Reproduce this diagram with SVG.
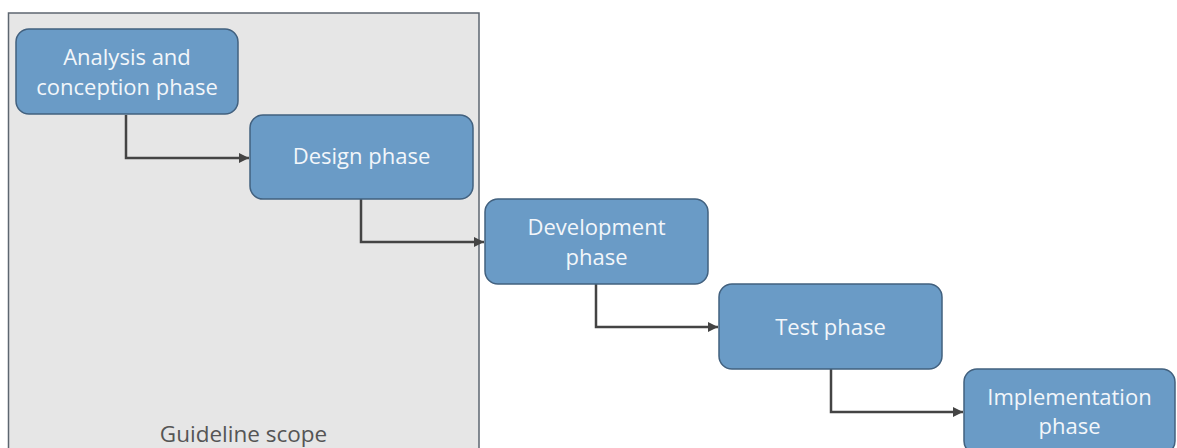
<svg xmlns="http://www.w3.org/2000/svg" width="1177" height="448" viewBox="0 0 1177 448">
<style>
.box{fill:#6a9bc6;stroke:#42617f;stroke-width:1.5}
.lbl{font-family:"Open Sans","Liberation Sans",sans-serif;font-size:22px;fill:#f2f6fa;text-anchor:middle}
.conn{fill:none;stroke:#444;stroke-width:2.5}
.scope{fill:#e6e6e6;stroke:#5d6670;stroke-width:1.5}
.scopelbl{font-family:"Open Sans","Liberation Sans",sans-serif;font-size:22.5px;fill:#555;text-anchor:middle}
</style>
<defs>
<marker id="ah" viewBox="0 0 10 10" refX="10" refY="5" markerWidth="4" markerHeight="4" orient="auto" markerUnits="strokeWidth">
<path d="M0,0 L10,5 L0,10 z" fill="#444"/>
</marker>
</defs>
<rect width="1177" height="448" fill="#fff"/>
<g id="scope">
<rect class="scope" x="8.5" y="13" width="470.5" height="450"/>
<text class="scopelbl" x="243.5" y="442">Guideline scope</text>
</g>
<g id="connectors">
<path class="conn" d="M126,115 V158 H249" marker-end="url(#ah)"/>
<path class="conn" d="M361,199 V242 H484" marker-end="url(#ah)"/>
<path class="conn" d="M596,284 V327 H718" marker-end="url(#ah)"/>
<path class="conn" d="M831,369 V412 H963" marker-end="url(#ah)"/>
</g>
<g id="analysis">
<rect class="box" x="16" y="29" width="222" height="85" rx="13"/>
<text class="lbl" x="127" y="65">Analysis and</text>
<text class="lbl" x="127" y="95">conception phase</text>
</g>
<g id="design">
<rect class="box" x="250" y="115" width="223" height="84" rx="13"/>
<text class="lbl" x="361.5" y="164">Design phase</text>
</g>
<g id="development">
<rect class="box" x="485" y="199" width="223" height="85" rx="13"/>
<text class="lbl" x="596.5" y="235">Development</text>
<text class="lbl" x="596.5" y="265">phase</text>
</g>
<g id="test">
<rect class="box" x="719" y="284" width="223" height="85" rx="13"/>
<text class="lbl" x="830.5" y="335">Test phase</text>
</g>
<g id="implementation">
<rect class="box" x="964" y="369" width="211" height="85" rx="13"/>
<text class="lbl" x="1069.5" y="405">Implementation</text>
<text class="lbl" x="1069.5" y="434">phase</text>
</g>
</svg>
